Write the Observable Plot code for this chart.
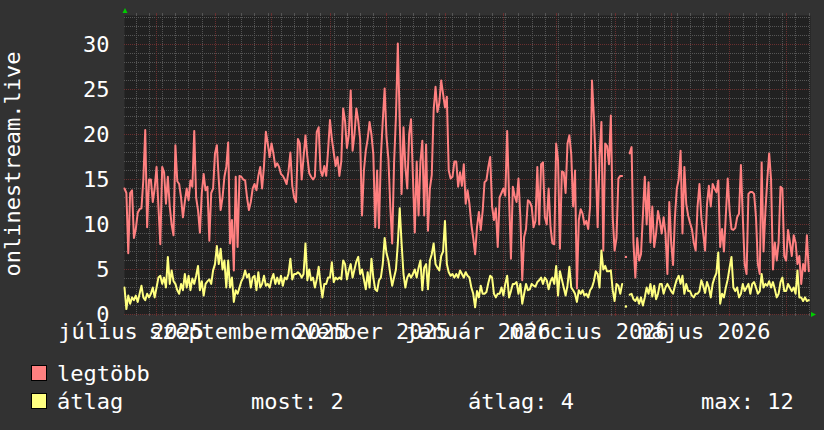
<!DOCTYPE html>
<html><head><meta charset="utf-8">
<script src="https://cdn.jsdelivr.net/npm/d3@7"></script>
<script src="https://cdn.jsdelivr.net/npm/@observablehq/plot@0.6"></script>
<style>
html,body{margin:0;padding:0;background:#323232;}
#wrap{width:824px;height:430px;overflow:hidden;}
svg{display:block;}
</style></head><body><div id="wrap"></div>
<script>
// ---- data ----
const monthNames = ["január","február","március","április","május","június","július","augusztus","szeptember","október","november","december"];
const yTicks = [0,5,10,15,20,25,30];
const seriesNames = ["legtöbb","átlag"];
const yTitle = "onlinestream.live";

const legtobb = [
14,13.5,6.8,13.5,13.8,8.5,9.5,11.3,11.7,11.8,
15,20.5,9.7,15,15,12.5,14,16.4,12,7.8,
16.4,15.8,12.3,15.3,12,10,8.8,18.8,14.8,14.5,
13,10.8,12.5,14,12.7,14.9,14.2,20.4,13,11.6,
9.1,13.5,15.6,13.8,14.2,8.2,13.5,14,17.9,18.8,
15,11.6,13,15.3,16.4,19.1,7.9,10.5,4.9,15.3,
7.5,15.4,15.3,15,14.9,13,11.6,12.5,14,14.5,
13.8,15.4,16.4,14,16.5,20.3,19,17.5,19,17.9,
16.4,16.8,16.4,15.6,15.4,15,14.5,15.9,18,14.3,
13,12.5,19.5,19,
15,17.5,19.9,17.5,15.7,15.3,15,15.3,20.3,20.8,
16,15.4,16.5,15.4,18.2,21.6,19.5,18,16.5,17.5,
15.4,17,22.9,21.5,18.5,20,24.9,18.2,20,22.9,
21.5,19.5,11,16,18.2,19.5,21.4,20,17.8,9.7,
16,9.6,17.5,21.5,25.1,19.7,17.3,12,7.9,16.8,
22,30.1,21.5,13.4,20.8,16.4,14,20,21.7,15.3,
9.1,17,11,17,19.3,11,18.9,9.3,14,15.5,
22.7,25.3,22.5,23.5,26,24.5,23,24.2,16,15.1,
15.3,17,17,14.2,15.8,14.3,16.7,12.3,13.8,12.3,
10,8.5,
6.7,9.7,11.4,9.4,11.5,14.7,14.9,16.4,17.5,12,
10.5,11.8,7.5,13,13.5,14,13.2,20.4,13.2,6.2,
14.2,13.2,12.5,15.1,10.8,3.8,8.6,9.5,12.7,12.5,
12,9.7,10.4,16.4,10,16.7,16.9,10.8,10,14,
9.7,7.9,7.8,19,17.1,7.3,15.9,15.8,13.5,19,
19.9,17.8,12,16,2.9,10.5,11.7,11.2,10,10.4,
9.5,12,26,22,16.7,9.7,17.5,21.4,7.1,19,
18.7,16.7,22.1,10.8,7.1,8.5,15.1,15.4,15.4,null,
6.4,null,17.9,18.6,8.0,4.1,8.5,6.0,6.7,11,
15.3,10,14.7,8,
12,7.5,9,11.5,10.4,9,10.8,9,4.5,12.5,
8,5.5,10.8,14,15,18.2,9,16.4,12.3,11,
10.2,9.5,8,7.1,12,14.5,10.8,9,7.1,12.2,
14.3,12,14.5,14,13.6,14.9,7.5,9.5,7,11,
15.1,11.5,9.5,9.4,9.6,10.8,11.2,16.6,10.8,5.6,
4.5,13.4,13.6,13.6,13.4,10.8,5.6,4.5,16.9,7,
11.5,15,17.9,15,5,8,6,8,14.2,14,
6.5,6,9.4,8,6.5,8.8,8,5.6,6.5,3.4,
5.6,4.8,8.8,4.8
];

const atlag = [
3.0,0.6,2.1,1.2,1.9,1.6,2.1,1.4,2.3,3.2,
1.9,1.6,2.3,1.9,2.3,3.0,1.9,3.0,4.1,4.3,
3.4,4.1,3.0,6.4,3.4,4.9,3.7,3.4,2.7,2.3,
3.4,2.7,4.5,3.0,4.3,2.7,4.0,3.4,4.3,5.4,
2.7,3.7,2.1,3.4,3.7,3.9,3.4,4.9,5.6,7.6,
5.6,7.3,5.0,6.0,3.0,6.0,3.0,4.1,1.4,2.7,
2.3,3.0,3.7,4.1,4.9,4.1,4.5,3.0,4.1,4.3,
2.7,4.7,3.0,3.4,4.3,3.2,3.4,3.0,3.9,4.5,
3.4,4.1,3.4,4.3,3.2,4.1,3.9,4.5,6.2,3.9,
4.5,4.5,4.7,4.5,
4.1,4.5,7.9,3.8,5.0,3.8,4.1,3.0,3.9,5.3,
3.4,1.9,3.4,3.4,4.1,4.1,5.8,3.6,4.1,3.9,
4.1,3.9,6.0,5.6,3.9,4.9,5.6,4.1,5.0,5.9,
6.4,4.5,5.0,3.9,2.8,4.7,3.0,6.2,4.1,2.8,
2.6,3.8,4.1,5.6,8.5,6.8,6.0,4.5,3.2,4.1,
5.0,7.9,11.8,7.9,4.5,3.0,4.1,4.5,4.1,4.5,
5.0,4.1,5.2,6.0,2.7,5.2,5.6,2.8,6.0,6.7,
7.9,5.6,5.2,4.9,6.5,7.0,10.4,5.6,4.7,4.3,
4.5,4.1,4.5,4.1,4.9,4.5,4.1,4.7,4.3,4.1,
3.0,2.3,
0.8,2.6,1.9,3.2,2.3,2.3,2.5,3.5,4.3,4.1,
2.3,1.9,2.3,2.3,3.0,2.1,3.4,4.3,1.9,2.6,
3.4,3.4,3.6,2.3,3.4,1.2,2.3,3.4,2.7,2.8,
3.4,3.2,3.1,3.6,3.8,4.1,3.4,4.1,3.8,2.8,
3.7,4.1,3.4,5.4,2.1,4.8,3.9,3.0,2.1,3.2,
5.3,3.0,2.7,2.3,1.4,2.7,2.3,2.7,2.1,2.3,
1.9,2.7,3.0,3.7,4.8,4.5,3.0,7.1,5.0,5.4,
4.8,4.8,4.9,2.7,1.5,3.4,3.2,2.3,3.4,null,
0.9,null,2.2,2.3,1.7,1.5,1.9,1.2,1.9,1.0,
1.9,3.0,2.3,3.4,
2,3.2,1.7,2.3,3.4,3.4,2.3,3.0,3.4,3.0,
2.6,2.3,3.2,3.9,4.3,3.4,4.3,2.3,3.4,2.6,
2.6,2.1,1.9,2.3,2.3,2.6,3.8,3.2,2.4,3.6,
3.0,1.9,3.4,4.1,4.6,6.9,1.2,2.3,1.9,3.0,
3.9,5.2,6.4,3.0,2.6,3.0,1.9,2.3,3.4,2.6,
3.0,3.4,2.3,3.4,3.6,3.0,2.3,2.6,4.5,3.0,
3.4,3.2,3.7,3.0,3.6,2.8,1.9,2.3,3.6,4.1,
2.6,2.6,3.4,3.0,2.6,3.0,2.3,4.9,1.9,1.9,
1.5,1.9,1.5,1.6
];

// ---- styles ----
const colors = ["#ff8080", "#ffff80"];
const FONT = "DejaVu Sans Mono";
const FS = 22;
const DAY = 864e5;
const start = new Date(Date.UTC(2025, 6, 14, 19));
const end = new Date(Date.UTC(2026, 6, 13, 17));
const YMAX = 33.22;
const LABEL_SHIFT = 17.3 * DAY;

const rows = legtobb.map((v, i) => ({date: new Date(+start + i * DAY), max: v, avg: atlag[i]}));
const isolated = key => rows.filter((r, i) => r[key] != null && (i === 0 || rows[i-1][key] == null) && (i === rows.length-1 || rows[i+1][key] == null));

const weeks = d3.utcMonday.range(start, end);
const months = d3.utcMonth.range(start, end);
const labelMonths = d3.utcMonth.every(2).range(d3.utcMonth.floor(start), end)
  .filter(d => +d + LABEL_SHIFT <= +end);
const minorY = d3.range(0, Math.floor(YMAX) + 1).filter(v => v % 5 !== 0);

const minorColor = "#555555", majorColor = "#6a2f2f";
const gridMinor = {stroke: minorColor, strokeDasharray: "1,1", shapeRendering: "crispEdges"};
const gridMajor = {stroke: majorColor, strokeDasharray: "1,1", shapeRendering: "crispEdges"};

const chart = Plot.plot({
  width: 824, height: 340,
  marginLeft: 124, marginRight: 14, marginTop: 15, marginBottom: 26,
  style: {background: "transparent", fontFamily: FONT, color: "#ffffff", overflow: "visible"},
  x: {type: "utc", domain: [start, end], axis: null},
  y: {domain: [0, YMAX], axis: null},
  marks: [
    Plot.frame({fill: "#212121", stroke: "none"}),
    Plot.ruleY(minorY, gridMinor),
    Plot.ruleX(weeks, gridMinor),
    Plot.ruleX(weeks, {y1: YMAX, y2: YMAX + 0.25, stroke: minorColor, shapeRendering: "crispEdges"}),
    Plot.ruleX(weeks, {y1: 0, y2: -0.25, stroke: minorColor, shapeRendering: "crispEdges"}),
    Plot.ruleY(yTicks, gridMajor),
    Plot.ruleX(months, gridMajor),
    Plot.ruleX(months, {y1: YMAX, y2: YMAX + 0.25, stroke: majorColor, shapeRendering: "crispEdges"}),
    Plot.ruleX(months, {y1: 0, y2: -0.25, stroke: majorColor, shapeRendering: "crispEdges"}),
    Plot.line(rows, {x: "date", y: "max", stroke: colors[0], strokeWidth: 2}),
    Plot.line(rows, {x: "date", y: "avg", stroke: colors[1], strokeWidth: 2}),
    Plot.dot(isolated("max"), {x: "date", y: "max", r: 1.2, fill: colors[0]}),
    Plot.dot(isolated("avg"), {x: "date", y: "avg", r: 1.2, fill: colors[1]}),
    Plot.text(yTicks, {frameAnchor: "left", y: d => d, text: d => String(d), textAnchor: "end", dx: -15, fill: "#ffffff", fontSize: FS}),
    Plot.text(labelMonths, {x: d => new Date(+d + LABEL_SHIFT), y: 0, dy: 24, lineAnchor: "bottom",
      text: d => monthNames[d.getUTCMonth()] + " " + d.getUTCFullYear(), fill: "#ffffff", fontSize: FS})
  ]
});

const svg = d3.select(chart);
// y-axis title
svg.append("text").attr("transform", "translate(20,164) rotate(-90)")
  .attr("text-anchor", "middle").attr("fill", "#ffffff")
  .attr("font-family", FONT).attr("font-size", FS).text(yTitle);
// arrows
svg.append("path").attr("d", "M122.5,13L127.5,13L125,8Z").attr("fill", "#00cc00");
svg.append("path").attr("d", "M811,312L811,317L816,314.5Z").attr("fill", "#00cc00");

document.getElementById("wrap").appendChild(chart);

// legend
const valid = atlag.filter(v => v != null);
const fmt = d3.format(".0f");
const stats = [
  ["most: ", fmt(valid[valid.length - 1])],
  ["átlag: ", fmt(d3.mean(valid))],
  ["max: ", fmt(d3.max(valid))]
];
const lg = d3.create("svg").attr("width", 824).attr("height", 90)
  .attr("font-family", FONT).attr("font-size", FS).attr("fill", "#ffffff");
seriesNames.forEach((name, i) => {
  lg.append("rect").attr("x", 31.5).attr("y", 25.5 + i * 28).attr("width", 15).attr("height", 15)
    .attr("fill", colors[i]).attr("stroke", "#000");
  lg.append("text").attr("x", 57).attr("y", 41 + i * 28).text(name);
});
[251, 468, 701].forEach((x, j) => {
  lg.append("text").attr("x", x).attr("y", 69).text(stats[j][0] + stats[j][1]);
});
document.getElementById("wrap").appendChild(lg.node());
</script></body></html>
